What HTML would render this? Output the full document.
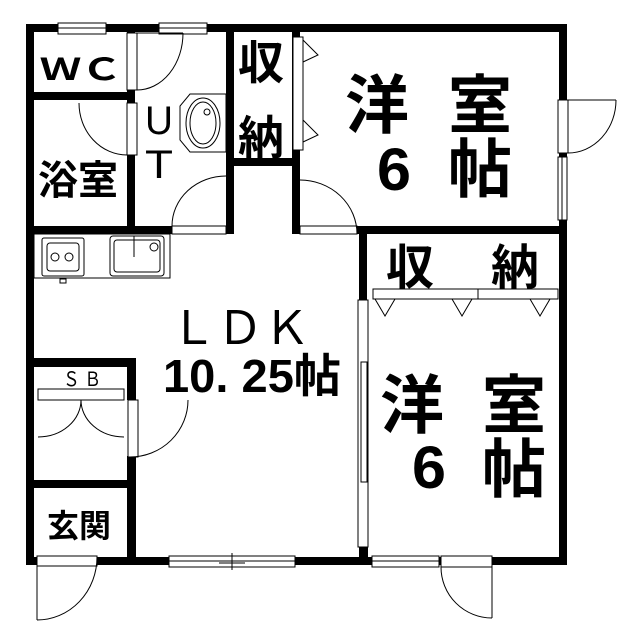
<!DOCTYPE html>
<html><head><meta charset="utf-8"><style>
html,body{margin:0;padding:0;background:#fff}
svg{display:block}
text{font-family:"Liberation Sans","Noto Sans CJK JP",sans-serif;fill:#000}
.b{font-weight:bold}
</style></head><body>
<svg width="640" height="640" viewBox="0 0 640 640" xmlns="http://www.w3.org/2000/svg">
<g fill="#000">
<rect x="26" y="24" width="541" height="8"/>
<rect x="26" y="24" width="8" height="541"/>
<rect x="559" y="24" width="8" height="541"/>
<rect x="26" y="557" width="541" height="8"/>
<rect x="26" y="92" width="109" height="8"/>
<rect x="127" y="24" width="8" height="210"/>
<rect x="26" y="226" width="146" height="8"/>
<rect x="226" y="24" width="8" height="210"/>
<rect x="226" y="158" width="70" height="8"/>
<rect x="292" y="24" width="8" height="210"/>
<rect x="357" y="226" width="210" height="8"/>
<rect x="359" y="226" width="8" height="74"/>
<rect x="359" y="547" width="9" height="12"/>
<rect x="26" y="358" width="110" height="9"/>
<rect x="127" y="358" width="9" height="42"/>
<rect x="127" y="456" width="9" height="105"/>
<rect x="26" y="480" width="110" height="8"/>
</g>
<g fill="#fff" stroke="#000" stroke-width="1">
<rect x="58" y="23" width="48" height="11"/><line x1="58" y1="28" x2="106" y2="28"/>
<rect x="159" y="23" width="48" height="11"/><line x1="159" y1="28" x2="207" y2="28"/>
<rect x="127" y="33" width="10" height="57"/>
<rect x="127" y="103" width="10" height="52"/>
<rect x="172" y="226" width="54" height="8"/>
<rect x="293" y="37" width="10" height="113"/>
<rect x="300" y="226" width="57" height="8"/>
<rect x="558" y="100" width="10" height="53"/>
<rect x="558" y="157" width="9" height="63"/><line x1="562" y1="157" x2="562" y2="220"/>
<rect x="373" y="289" width="185" height="10"/><line x1="478" y1="289" x2="478" y2="299"/>
<rect x="358" y="300" width="10" height="247"/>
<rect x="361" y="362" width="6" height="120"/>
<rect x="169" y="556" width="126" height="11"/><line x1="169" y1="561" x2="295" y2="561"/>
<rect x="372" y="556" width="67" height="11"/><line x1="372" y1="561" x2="439" y2="561"/>
<rect x="441" y="556" width="51" height="11"/>
<rect x="37" y="556" width="60" height="10"/>
<rect x="128" y="400" width="10" height="57"/>
<rect x="38" y="389" width="86" height="11"/>
<rect x="34" y="234" width="136" height="44"/>
<rect x="42" y="238" width="42" height="38" rx="2"/>
<rect x="47" y="243" width="32" height="28" rx="3"/>
<rect x="110" y="236" width="54" height="40" rx="3"/>
<rect x="114" y="240" width="46" height="32" rx="3"/>
<rect x="60" y="279" width="6" height="4"/>
<path d="M190 94 H226 V152 H190 L180 140 V106 Z"/>
<ellipse cx="203" cy="123" rx="17" ry="25"/>
</g>
<g fill="none" stroke="#000" stroke-width="1">
<circle cx="55" cy="257" r="4"/><circle cx="69" cy="257" r="4"/>
<line x1="134" y1="236" x2="134" y2="257"/><circle cx="154" cy="247" r="4"/>
<ellipse cx="203" cy="123" rx="13" ry="21"/><circle cx="207" cy="112" r="3"/>
<line x1="137" y1="33" x2="183" y2="33"/>
<path d="M183 33 A 46 57 0 0 1 137 90"/>
<path d="M79 103 A 48 52 0 0 0 127 155"/>
<path d="M172 226 A 54 50 0 0 1 226 176"/>
<path d="M300 180 A 57 54 0 0 1 357 234"/>
<line x1="568" y1="100" x2="616" y2="100"/>
<path d="M616 100 A 48 53 0 0 1 568 153"/>
<path d="M441 567 A 51 51 0 0 0 492 618"/>
<line x1="492" y1="567" x2="492" y2="618"/>
<path d="M97 557 A 60 63 0 0 1 37 620"/>
<line x1="37" y1="566" x2="37" y2="620"/>
<path d="M188 400 A 58 57 0 0 1 130 457"/>
<path d="M81 400 A 43 37 0 0 1 38 437"/>
<path d="M81 400 A 43 37 0 0 0 124 437"/>
<path d="M303 40 L318 55 L303 62"/>
<path d="M303 120 L318 135 L303 142"/>
<path d="M375 299 L385 316 L395 299"/>
<path d="M452 299 L462 316 L472 299"/>
<path d="M530 299 L540 316 L550 299"/>
<line x1="232" y1="553" x2="232" y2="570"/><line x1="219" y1="563" x2="245" y2="563"/>
</g>
<text x="40" y="80" class="b" font-size="30" textLength="82" lengthAdjust="spacingAndGlyphs">ＷＣ</text>
<text x="38" y="194" class="b" font-size="40">浴室</text>
<text x="145" y="134" font-size="40" textLength="28" lengthAdjust="spacingAndGlyphs">U</text>
<text x="145" y="178" font-size="40" textLength="28" lengthAdjust="spacingAndGlyphs">T</text>
<text x="238" y="79" class="b" font-size="46">収</text>
<text x="238" y="154" class="b" font-size="46">納</text>
<text x="345" y="128" class="b" font-size="64">洋</text>
<text x="448" y="128" class="b" font-size="64">室</text>
<text x="377" y="190" class="b" font-size="60" textLength="34" lengthAdjust="spacingAndGlyphs">6</text>
<text x="448" y="192" class="b" font-size="64">帖</text>
<text x="386" y="284" class="b" font-size="48">収</text>
<text x="491" y="284" class="b" font-size="48">納</text>
<text x="170" y="344" font-size="46" textLength="140" lengthAdjust="spacingAndGlyphs">ＬＤＫ</text>
<text x="163" y="392" class="b" font-size="46" textLength="178" lengthAdjust="spacingAndGlyphs">10. 25帖</text>
<text x="380" y="428" class="b" font-size="64">洋</text>
<text x="482" y="428" class="b" font-size="64">室</text>
<text x="412" y="488" class="b" font-size="60" textLength="34" lengthAdjust="spacingAndGlyphs">6</text>
<text x="482" y="492" class="b" font-size="64">帖</text>
<text x="63" y="386" font-size="20" textLength="38" lengthAdjust="spacingAndGlyphs">Ｓ Ｂ</text>
<text x="47" y="537" class="b" font-size="32">玄関</text>
</svg>
</body></html>
